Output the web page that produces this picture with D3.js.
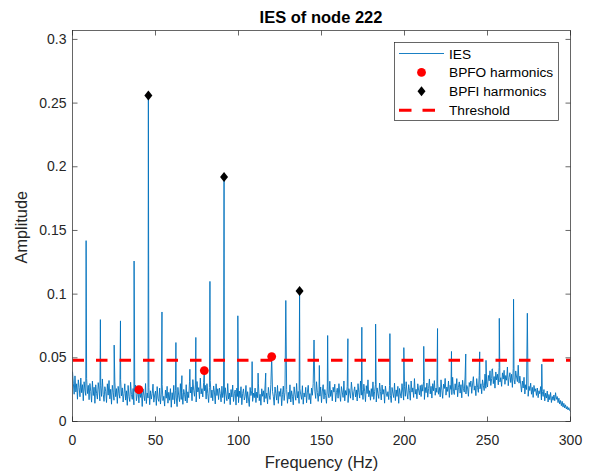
<!DOCTYPE html>
<html><head><meta charset="utf-8">
<script src="https://cdn.jsdelivr.net/npm/d3@7"></script>
<style>
body{margin:0;background:#fff}
text{font-family:"Liberation Sans",Arial,Helvetica,sans-serif}
</style>
</head><body>
<svg id="c" width="590" height="475"></svg>
<script>
// ---- data ----
const noiseStep = 0.5;           // Hz between noise samples
const noiseScale = 1e-4;         // noise values below are in units of 1e-4
const noise = [
392,301,214,358,232,296,175,327,268,194,341,226,289,163,312,247,205,336,219,284,
171,298,236,152,317,204,269,143,288,221,176,305,249,162,281,197,334,214,158,273,
238,149,296,207,322,178,253,136,284,229,167,311,195,258,142,276,218,183,329,201,
264,153,219,296,168,241,127,283,196,157,308,212,174,259,131,237,286,163,214,248,
146,271,189,232,118,256,207,163,298,141,224,185,267,132,241,176,219,293,152,208,
239,126,274,181,158,262,137,215,291,164,198,121,247,183,276,144,229,167,258,112,
226,171,284,139,243,192,117,268,201,156,297,173,228,135,252,214,161,289,146,233,
187,312,224,271,163,329,246,198,287,153,314,232,266,179,341,217,258,193,306,241,
284,176,297,218,149,268,321,186,247,163,279,231,138,296,204,257,172,263,219,154,
277,188,231,141,265,209,163,298,176,224,132,251,193,286,157,218,247,129,262,196,
148,239,187,273,132,221,256,169,197,283,145,234,176,118,267,204,241,158,223,187,
262,149,231,187,296,163,214,128,257,198,241,152,279,181,223,139,268,206,173,292,
156,237,194,128,271,219,168,283,142,236,197,259,124,213,278,165,229,187,251,143,
229,176,288,153,241,198,131,272,214,167,299,185,236,142,257,209,174,281,136,224,
193,268,147,231,284,172,219,139,263,206,297,164,238,181,312,227,158,246,199,271,
148,239,289,176,251,204,143,278,223,186,316,197,245,162,269,231,293,154,227,261,
183,297,216,158,274,231,189,318,162,243,207,276,149,258,224,183,309,241,168,236,
272,193,248,161,297,226,184,318,207,252,173,293,238,156,281,219,327,194,242,167,
258,196,311,174,236,289,153,264,218,181,302,237,169,286,214,251,144,278,223,196,
234,172,283,206,149,267,223,188,301,164,248,197,276,143,259,216,184,297,231,168,
273,198,312,224,176,289,243,167,318,231,264,189,337,215,253,178,296,247,209,283,
196,289,238,314,173,267,226,302,191,258,334,217,276,184,297,241,321,206,263,229,
301,214,268,193,327,246,182,293,259,338,207,271,236,318,189,284,252,211,347,236,
212,296,247,337,194,268,311,223,289,186,324,257,231,349,216,283,263,198,306,274,
318,221,294,352,246,279,203,337,268,229,361,257,296,218,327,284,243,372,261,302,
271,362,319,398,283,336,414,297,353,262,389,326,371,288,424,311,344,276,382,333,
402,292,361,324,428,281,346,383,306,371,268,417,332,294,397,349,313,442,301,356,
294,231,318,263,347,216,289,251,322,198,276,243,301,214,268,189,283,236,257,205,
263,187,241,218,274,169,236,197,251,162,223,184,239,153,212,171,228,149,196,167,
208,163,226,174,196,148,183,137,165,124,158,113,143,106,131,98,118,91,109,86,
78
];
const peakFreq = [8.2,16.8,25.1,28.9,37.1,45.7,53.9,62.3,65.9,70.7,74.3,79.4,82.8,91.3,99.6,108.2,111.8,116.4,120.0,128.5,136.8,145.5,148.7,153.7,165.9,174.3,182.6,191.2,199.6,211.6,219.9,228.3,236.9,245.3,249.1,252.7,257.1,265.7,274.0,282.7];
const peakAmp  = [0.142,0.080,0.060,0.079,0.126,0.256,0.086,0.062,0.036,0.041,0.066,0.040,0.110,0.192,0.083,0.047,0.038,0.038,0.051,0.095,0.1025,0.064,0.044,0.0675,0.065,0.074,0.0765,0.069,0.058,0.059,0.073,0.055,0.053,0.0547,0.048,0.041,0.081,0.096,0.085,0.045];
const bpfoFreq = [40.0, 79.4, 120.0];
const bpfoAmp  = [0.025, 0.040, 0.051];
const bpfiFreq = [45.7, 91.3, 136.8];
const bpfiAmp  = [0.256, 0.192, 0.1025];
const threshold = 0.048;
const xTicks = [0,50,100,150,200,250,300];
const yTicks = [0,0.05,0.1,0.15,0.2,0.25,0.3];
const legendLabels = ["IES","BPFO harmonics","BPFI harmonics","Threshold"];

// ---- build series ----
let pts = noise.map((v,i)=>({f:i*noiseStep, a:v*noiseScale}))
  .filter(p=>!peakFreq.some(pf=>Math.abs(pf-p.f)<0.05));
peakFreq.forEach((f,i)=>pts.push({f, a:peakAmp[i]}));
pts.sort((a,b)=>a.f-b.f);

// ---- draw ----
const svg = d3.select("#c");
const x = d3.scaleLinear().domain([0,300]).range([72.5,570.5]);
const y = d3.scaleLinear().domain([0,0.307]).range([421.5,30.5]);
const axisCol = "#262626";
const blue = "#0072BD";

svg.append("rect").attr("width",590).attr("height",475).attr("fill","#fff");

svg.append("clipPath").attr("id","clip").append("rect")
  .attr("x",72.5).attr("y",30.5).attr("width",498).attr("height",391);

const plot = svg.append("g").attr("clip-path","url(#clip)");
plot.append("path").datum(pts)
  .attr("d", d3.line().x(d=>x(d.f)).y(d=>y(d.a)))
  .attr("fill","none").attr("stroke",blue).attr("stroke-width",0.9).attr("stroke-linejoin","round");

plot.append("line")
  .attr("x1",x(0)).attr("x2",x(300)).attr("y1",y(threshold)).attr("y2",y(threshold))
  .attr("stroke","#FF0000").attr("stroke-width",3).attr("stroke-dasharray","11.5,12");

const diamond = (cx,cy)=>`M${cx},${cy-5}L${cx+4},${cy}L${cx},${cy+5}L${cx-4},${cy}Z`;

svg.append("g").selectAll("circle").data(bpfoFreq).join("circle")
  .attr("cx",(d)=>x(d)).attr("cy",(d,i)=>y(bpfoAmp[i])).attr("r",4.4).attr("fill","#FF0000");
svg.append("g").selectAll("path").data(bpfiFreq).join("path")
  .attr("d",(d,i)=>diamond(x(d),y(bpfiAmp[i]))).attr("fill","#000");

// axes
function styleAxis(g){
  g.select(".domain").remove();
  g.selectAll(".tick line").attr("stroke",axisCol).attr("stroke-width",0.7);
  g.selectAll("text").attr("fill",axisCol).attr("font-size",14)
    .attr("font-family",'"Liberation Sans",Arial,Helvetica,sans-serif');
}
svg.append("g").attr("transform","translate(0,421.5)")
  .call(d3.axisBottom(x).tickValues(xTicks).tickSizeInner(-5).tickSizeOuter(0).tickPadding(14).offset(0).tickFormat(d3.format("d")))
  .call(styleAxis);
svg.append("g").attr("transform","translate(0,30.5)")
  .call(d3.axisTop(x).tickValues(xTicks).tickSizeInner(-5).tickSizeOuter(0).offset(0).tickFormat(""))
  .call(styleAxis);
svg.append("g").attr("transform","translate(72.5,0)")
  .call(d3.axisLeft(y).tickValues(yTicks).tickSizeInner(-5).tickSizeOuter(0).tickPadding(6).offset(0)
    .tickFormat(d=>d===0?"0":String(+d.toFixed(2))))
  .call(styleAxis);
svg.append("g").attr("transform","translate(570.5,0)")
  .call(d3.axisRight(y).tickValues(yTicks).tickSizeInner(-5).tickSizeOuter(0).offset(0).tickFormat(""))
  .call(styleAxis);

svg.append("rect").attr("x",72.5).attr("y",30.5).attr("width",498).attr("height",391)
  .attr("fill","none").attr("stroke",axisCol).attr("stroke-width",0.7);

// titles
svg.append("text").attr("x",321).attr("y",23.3).attr("text-anchor","middle")
  .attr("font-size",16.5).attr("font-weight","bold").attr("fill","#000").text("IES of node 222");
svg.append("text").attr("x",321.5).attr("y",467.8).attr("text-anchor","middle")
  .attr("font-size",16.5).attr("fill",axisCol).text("Frequency (Hz)");
svg.append("text").attr("transform","translate(26.7,227.2) rotate(-90)").attr("text-anchor","middle")
  .attr("font-size",16.3).attr("fill",axisCol).text("Amplitude");

// legend
const lg = svg.append("g");
lg.append("rect").attr("x",394.5).attr("y",42.5).attr("width",164).attr("height",78)
  .attr("fill","#fff").attr("stroke",axisCol).attr("stroke-width",0.7);
const rowY = [53.5,72.4,91.3,110.2];
lg.append("line").attr("x1",399).attr("x2",444).attr("y1",rowY[0]).attr("y2",rowY[0])
  .attr("stroke",blue).attr("stroke-width",0.9);
lg.append("circle").attr("cx",421.5).attr("cy",rowY[1]).attr("r",4.4).attr("fill","#FF0000");
lg.append("path").attr("d",diamond(421.5,rowY[2])).attr("fill","#000");
lg.append("line").attr("x1",399).attr("x2",444).attr("y1",rowY[3]).attr("y2",rowY[3])
  .attr("stroke","#FF0000").attr("stroke-width",3).attr("stroke-dasharray","12.5,11");
lg.selectAll("text.lab").data(legendLabels).join("text").attr("class","lab")
  .attr("x",449).attr("y",(d,i)=>rowY[i]+5).attr("font-size",13.7).attr("fill","#000").text(d=>d);
</script>
</body></html>
